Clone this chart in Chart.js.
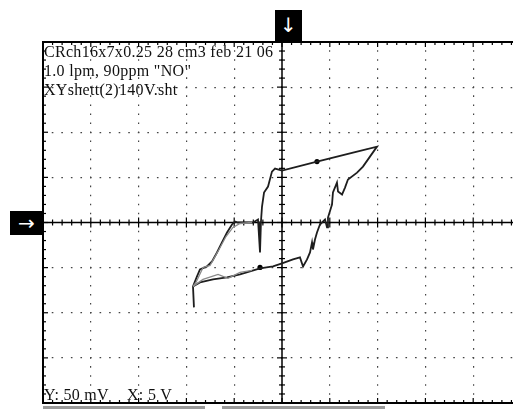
<!DOCTYPE html>
<html>
<head>
<meta charset="utf-8">
<script src="https://cdn.jsdelivr.net/npm/chart.js@4"></script>
<style>
  html, body { margin: 0; padding: 0; background: #fff; overflow: hidden; }
  #wrap { position: relative; width: 513px; height: 409px; overflow: hidden; }
  canvas { position: absolute; left: 0; top: 0; }
  .lbl { position: absolute; font-family: 'Liberation Serif', serif; font-size: 16px; line-height: 19px; color: #111; white-space: pre; letter-spacing: 0.3px; }
  .box { position: absolute; background: #000; color: #fff; font-family: 'DejaVu Sans', sans-serif; text-align: center; }
  .bar { position: absolute; background: #9a9a9a; height: 3px; top: 406px; }
</style>
</head>
<body>
<div id="wrap">
  <canvas id="scope" width="540" height="409"></canvas>
  <div class="lbl" style="left:44px; top:42px;">CRch16x7x0.25 28 cm3 feb 21 06</div>
  <div class="lbl" style="left:44px; top:61px;">1.0 lpm, 90ppm "NO"</div>
  <div class="lbl" style="left:44px; top:80px;">XYshett(2)140V.sht</div>
  <div class="lbl" style="left:44px; top:385px;">Y: 50 mV</div>
  <div class="lbl" style="left:127px; top:385px;">X: 5 V</div>
  <div class="box" style="left:275px; top:10px; width:27px; height:32px; font-size:20px; line-height:30px;">↓</div>
  <div class="box" style="left:10px; top:211px; width:33px; height:24px; font-size:20px; line-height:24px;">→</div>
  <div class="bar" style="left:43px; width:162px;"></div>
  <div class="bar" style="left:222px; width:163px;"></div>
</div>
<script>
// axis ranges: X in volts (5 V/div), Y in mV (50 mV/div)
const xMin = -25, xMax = 25, xStep = 5, xMinor = 1;
const yMin = -200, yMax = 200, yStep = 50, yMinor = 10;

// main X-Y trace (hysteresis loop)
const traceX = [-9.31, -8.58, -7.22, -5.75, -4.39, -2.30, -0.94, 0, 1.15, 1.88, 2.20, 2.62, 2.93, 3.14, 3.24, 3.45, 3.66, 3.97, 4.50, 4.71, 4.81, 5.23, 5.33, 5.75, 5.86, 6.28, 6.59, 6.90, 7.85, 8.47, 9.20, 9.94,
  7.43, 3.66, 0, -0.73, -1.05, -1.46, -1.88, -2.09, -2.20, -2.30, -2.51, -3.03, -3.66, -4.60, -4.92, -5.23, -5.75, -6.28, -6.80, -7.32, -7.85, -8.58, -8.89, -9.31, -9.21];
const traceY = [-70.8, -66.4, -63.0, -60.8, -57.5, -50.9, -48.7, -45.3, -40.9, -38.7, -48.7, -40.9, -33.2, -22.1, -29.9, -18.8, -11.1, -2.2, 3.3, -5.5, 5.5, 19.9, 33.2, 44.2, 34.3, 31.0, 38.7, 47.6, 55.3, 61.9, 73.0, 84.1,
  77.4, 67.5, 57.5, 59.7, 56.4, 39.8, 33.2, 17.7, 1.1, -33.2, 3.3, 0, 0, 0, 1.1, -2.2, -11.1, -22.1, -33.2, -43.1, -48.7, -52.0, -59.7, -70.8, -94.0];

// fainter second sweep along the lower left
const ghostX = [-9.31, -9.00, -8.26, -7.53, -6.59, -5.86, -5.13, -4.39, -3.14];
const ghostY = [-70.8, -66.4, -49.8, -47.6, -29.9, -15.5, -5.5, -1.1, 0];
const ghost2X = [-9.31, -8.26, -6.69, -5.65, -4.39, -3.14];
const ghost2Y = [-70.8, -63.0, -57.5, -61.9, -55.3, -53.1];

// heavier dots on the trace
const dotX = [3.66, -2.30];
const dotY = [67.5, -49.8];

const pts = (xs, ys) => xs.map((v, i) => ({ x: v, y: ys[i] }));

function line(ctx, x1, y1, x2, y2) {
  ctx.beginPath();
  ctx.moveTo(x1, y1);
  ctx.lineTo(x2, y2);
  ctx.stroke();
}

// frame, centre cross and graticule ticks
const graticule = {
  id: 'graticule',
  beforeDatasetsDraw(chart) {
    const { ctx, chartArea: a, scales: { x, y } } = chart;
    const x0 = x.getPixelForValue(0);
    const y0 = y.getPixelForValue(0);
    ctx.save();
    ctx.strokeStyle = '#000';
    ctx.lineWidth = 2;
    ctx.strokeRect(a.left, a.top, a.right - a.left, a.bottom - a.top);
    ctx.lineWidth = 1.5;
    line(ctx, x0, a.top, x0, a.bottom);
    line(ctx, a.left, y0, a.right, y0);
    ctx.lineWidth = 1.2;
    for (let v = xMin; v <= xMax; v += xMinor) {
      const px = x.getPixelForValue(v);
      const len = v % xStep === 0 ? 5 : 3;
      line(ctx, px, y0 - len, px, y0 + len);
      line(ctx, px, a.top, px, a.top + len);
      line(ctx, px, a.bottom - len, px, a.bottom);
    }
    for (let v = yMin; v <= yMax; v += yMinor) {
      const py = y.getPixelForValue(v);
      const len = v % yStep === 0 ? 5 : 3;
      line(ctx, x0 - len, py, x0 + len, py);
      line(ctx, a.left, py, a.left + len, py);
    }
    ctx.restore();
  }
};

new Chart(document.getElementById('scope').getContext('2d'), {
  type: 'scatter',
  data: {
    datasets: [
      {
        data: pts(ghostX, ghostY),
        showLine: true,
        borderColor: '#8a8a8a',
        borderWidth: 1.3,
        pointRadius: 0
      },
      {
        data: pts(ghost2X, ghost2Y),
        showLine: true,
        borderColor: '#8a8a8a',
        borderWidth: 1.3,
        pointRadius: 0
      },
      {
        data: pts(traceX, traceY),
        showLine: true,
        borderColor: '#1e1e1e',
        borderWidth: 1.8,
        pointRadius: 0
      },
      {
        data: pts(dotX, dotY),
        showLine: false,
        backgroundColor: '#000',
        pointRadius: 2.6,
        pointBorderWidth: 0
      }
    ]
  },
  plugins: [graticule],
  options: {
    responsive: false,
    animation: false,
    layout: { padding: { left: 43, top: 42, right: 19, bottom: 6 } },
    plugins: { legend: { display: false }, tooltip: { enabled: false } },
    scales: {
      x: {
        type: 'linear',
        min: xMin,
        max: xMax,
        ticks: { display: false, stepSize: xStep },
        grid: { color: '#444', lineWidth: 1.2, drawTicks: false },
        border: { display: false, dash: [1.6, 7.425], dashOffset: 0.8 },
        afterFit: s => { s.height = 0; }
      },
      y: {
        type: 'linear',
        min: yMin,
        max: yMax,
        ticks: { display: false, stepSize: yStep },
        grid: { color: '#444', lineWidth: 1.2, drawTicks: false },
        border: { display: false, dash: [1.6, 7.96], dashOffset: 0.8 },
        afterFit: s => { s.width = 0; }
      }
    }
  }
});
</script>
</body>
</html>
